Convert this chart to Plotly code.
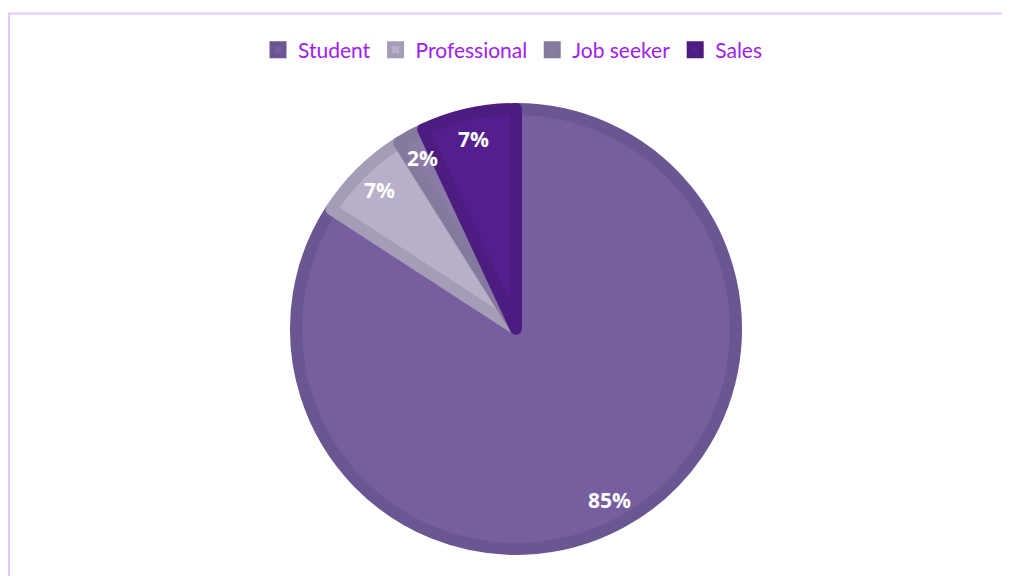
import math
import plotly.graph_objects as go

categories = ["Student", "Professional", "Job seeker", "Sales"]
values = [85, 7, 2, 7]
fill_colors = ["#775E9F", "#B8B0C9", "#8B7CA6", "#551E8F"]
border_colors = ["#6A5690", "#A59DB7", "#857A9E", "#4D1C80"]

W, H = 1010, 576
OFF = 8  # page body margin
LW = 12
cx, cy, R = 516 - OFF, 329 - OFF, 226 - LW / 2  # pie centre / radius in px
label_r = 195

fig = go.Figure()
fig.add_trace(go.Pie(
    labels=categories,
    values=values,
    sort=False,
    direction="clockwise",
    rotation=0,
    marker=dict(colors=fill_colors, line=dict(color=border_colors, width=LW)),
    textinfo="none",
    hoverinfo="label+percent",
    domain=dict(x=[(cx - R) / W, (cx + R) / W], y=[1 - (cy + R) / H, 1 - (cy - R) / H]),
))

# data labels at "inside end" positions, derived from the values
total = sum(values)
cum = 0
for v in values:
    mid = (cum + v / 2) / total * 2 * math.pi
    cum += v
    px = cx + label_r * math.sin(mid)
    py = cy - label_r * math.cos(mid)
    fig.add_annotation(
        x=px / W, y=1 - py / H, xref="paper", yref="paper",
        text=f"<b>{v}%</b>", showarrow=False,
        font=dict(family="Open Sans", size=21, color="white"),
        xanchor="center", yanchor="middle",
    )

fig.update_layout(
    width=W, height=H,
    margin=dict(l=0, r=0, t=0, b=0),
    paper_bgcolor="white",
    plot_bgcolor="white",
    showlegend=True,
    legend=dict(
        orientation="h", x=(513 - OFF) / W, xanchor="center", y=1 - (50 - OFF) / H, yanchor="middle",
        font=dict(family="Lato", size=21, color="#A020F0"),
        itemwidth=30, traceorder="normal",
    ),
    shapes=[
        dict(type="rect", xref="paper", yref="paper",
             x0=(9 - OFF) / W, x1=1.05, y0=-0.05, y1=1 - (13.5 - OFF) / H,
             line=dict(color="#E6C8F8", width=2), fillcolor="rgba(0,0,0,0)", layer="below"),
    ],
)

fig.write_html("out.html")
